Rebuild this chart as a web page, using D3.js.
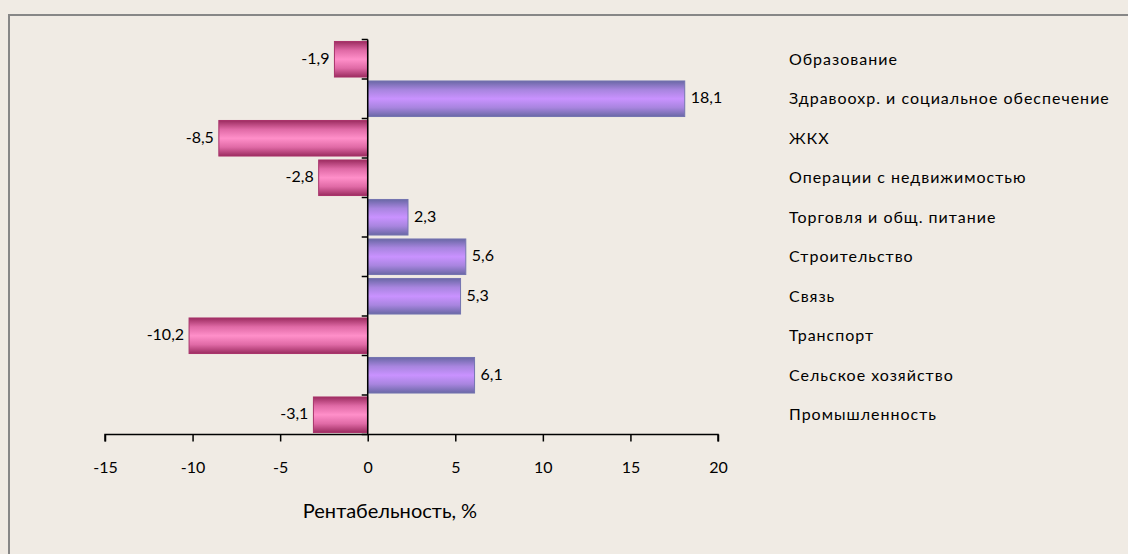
<!DOCTYPE html>
<html>
<head>
<meta charset="utf-8">
<script src="https://cdn.jsdelivr.net/npm/d3@7"></script>
<style>
  body { margin: 0; background: #f0ebe4; }
  svg { display: block; font-family: Lato, "Open Sans", sans-serif; }
</style>
</head>
<body>
<svg id="chart" width="1128" height="554"></svg>
<script>
// categories top to bottom
var categories = [
  "Образование",
  "Здравоохр. и социальное обеспечение",
  "ЖКХ",
  "Операции с недвижимостью",
  "Торговля и общ. питание",
  "Строительство",
  "Связь",
  "Транспорт",
  "Сельское хозяйство",
  "Промышленность"
];
var values = [-1.9, 18.1, -8.5, -2.8, 2.3, 5.6, 5.3, -10.2, 6.1, -3.1];
var xTicks = [-15, -10, -5, 0, 5, 10, 15, 20];
var axisTitle = "Рентабельность, %";

var svg = d3.select("#chart");

// frame
svg.append("rect")
  .attr("x", 9).attr("y", 15)
  .attr("width", 1130).attr("height", 560)
  .attr("fill", "#f0ebe4")
  .attr("stroke", "#878787")
  .attr("stroke-width", 2);

var defs = svg.append("defs");
function grad(id, edge, mid, center) {
  var g = defs.append("linearGradient").attr("id", id)
    .attr("x1", 0).attr("y1", 0).attr("x2", 0).attr("y2", 1);
  [[0, edge], [0.25, mid], [0.5, center], [0.75, mid], [1, edge]].forEach(function (s) {
    g.append("stop").attr("offset", s[0]).attr("stop-color", s[1]);
  });
}
grad("gPos", "#6a68a6", "#a885df", "#c992ff");
grad("gNeg", "#9c2c60", "#e06aa6", "#ff8fc9");

var x = d3.scaleLinear().domain([-15, 20]).range([105, 718]);
var y = d3.scaleBand().domain(categories).range([39.5, 434.5]).paddingInner(0.1).paddingOuter(0.05);
var band = d3.scaleBand().domain(categories).range([39.5, 434.5]);

// bars
svg.append("g").selectAll("rect")
  .data(values)
  .enter()
  .append("rect")
  .attr("x", function (d) { return x(Math.min(0, d)); })
  .attr("y", function (d, i) { return y(categories[i]); })
  .attr("width", function (d) { return Math.abs(x(d) - x(0)); })
  .attr("height", y.bandwidth())
  .attr("fill", function (d) { return d < 0 ? "url(#gNeg)" : "url(#gPos)"; })
  .attr("stroke", function (d) { return d < 0 ? "#a8336a" : "#7474b0"; })
  .attr("stroke-width", 1);

// value labels
svg.append("g").selectAll("text")
  .data(values)
  .enter()
  .append("text")
  .attr("x", function (d) { return d < 0 ? x(d) - 5 : x(d) + 6; })
  .attr("y", function (d, i) { return band(categories[i]) + band.bandwidth() / 2 - 1; })
  .attr("dy", "0.35em")
  .attr("text-anchor", function (d) { return d < 0 ? "end" : "start"; })
  .attr("font-size", 16)
  .attr("fill", "#000")
  .text(function (d) { return String(d).replace(".", ","); });

// category labels on the right
svg.append("g").selectAll("text")
  .data(categories)
  .enter()
  .append("text")
  .attr("x", 789)
  .attr("y", function (d) { return band(d) + band.bandwidth() / 2; })
  .attr("dy", "0.35em")
  .attr("font-size", 16)
  .attr("letter-spacing", 1)
  .attr("fill", "#000")
  .text(function (d) { return d; });

// vertical axis at zero
var yAxis = svg.append("g")
  .attr("transform", "translate(" + x(0) + ",0)");
yAxis.append("line")
  .attr("y1", 39.5).attr("y2", 434.5)
  .attr("stroke", "#000").attr("stroke-width", 1.5);
yAxis.selectAll("line.tick")
  .data(d3.range(categories.length + 1))
  .enter()
  .append("line")
  .attr("class", "tick")
  .attr("x1", -6).attr("x2", 0)
  .attr("y1", function (i) { return 39.5 + i * band.step(); })
  .attr("y2", function (i) { return 39.5 + i * band.step(); })
  .attr("stroke", "#000").attr("stroke-width", 1.5);

// horizontal axis
var xAxis = svg.append("g")
  .attr("transform", "translate(0,434.5)")
  .call(d3.axisBottom(x).tickValues(xTicks).tickSize(7).tickPadding(0).tickFormat(d3.format("d")));
xAxis.select(".domain").attr("stroke", "#000").attr("stroke-width", 1.5)
  .attr("d", "M" + x(-15) + ",7V0H" + x(20) + "V7");
xAxis.selectAll(".tick line").attr("stroke", "#000").attr("stroke-width", 1.5);
xAxis.selectAll(".tick text")
  .attr("font-family", "Lato, 'Open Sans', sans-serif")
  .attr("font-size", 16)
  .attr("fill", "#000")
  .attr("y", 38.5)
  .attr("dy", 0)
  .text(function (d) { return d < 0 ? "-" + Math.abs(d) : d; });

svg.append("text")
  .attr("x", 390)
  .attr("y", 518)
  .attr("text-anchor", "middle")
  .attr("font-size", 20)
  .attr("fill", "#000")
  .text(axisTitle);
</script>
</body>
</html>
